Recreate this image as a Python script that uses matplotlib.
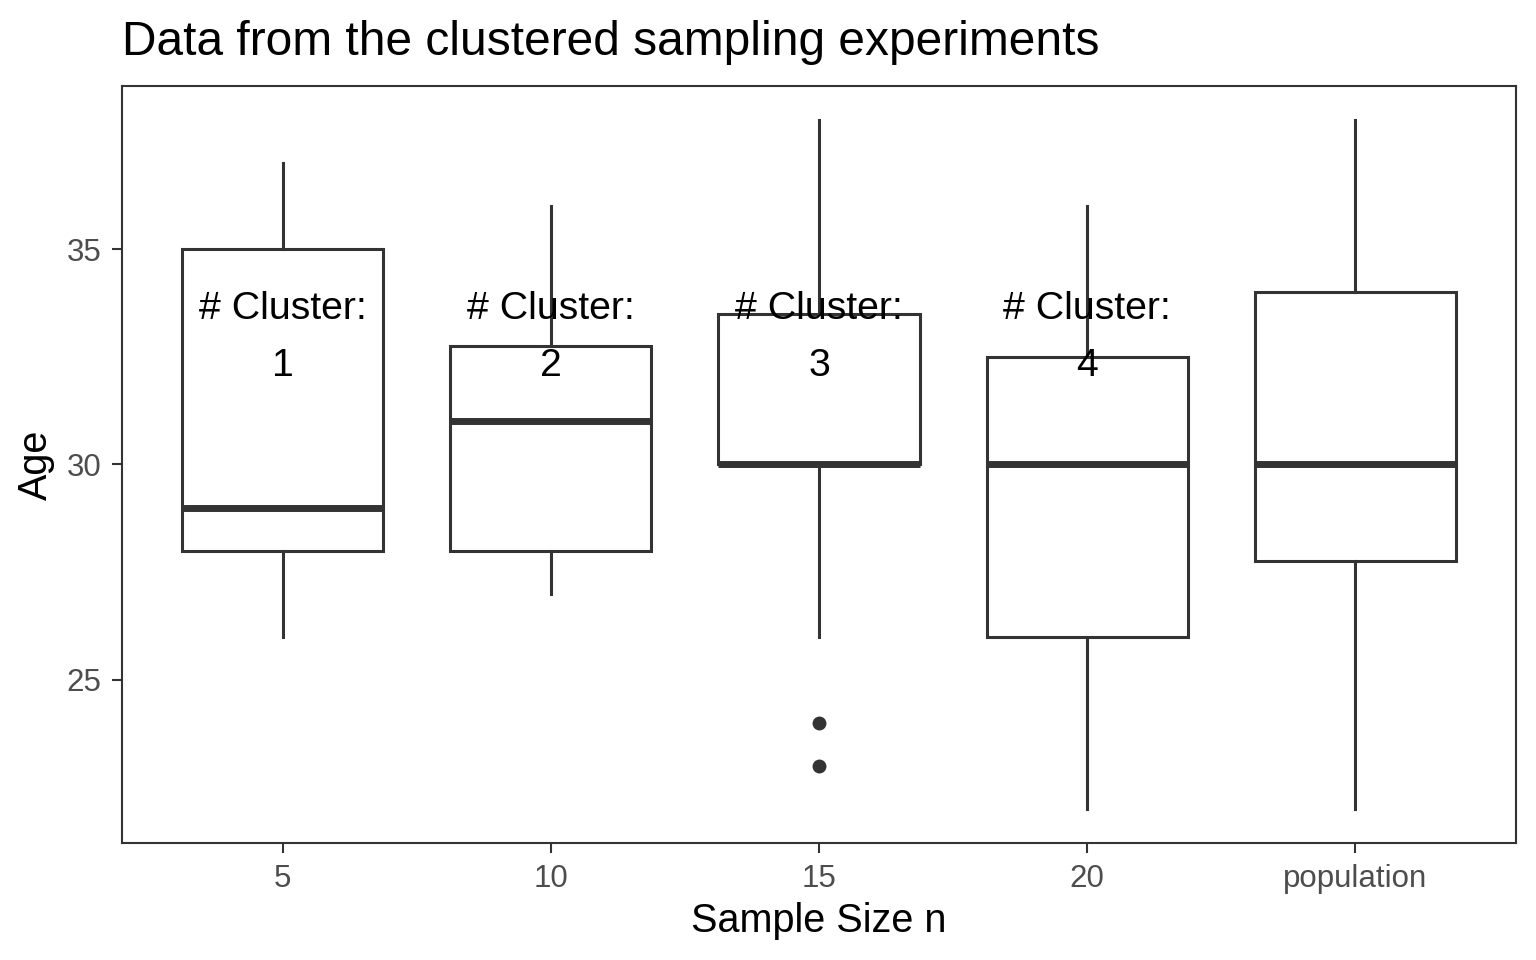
import matplotlib
matplotlib.use("Agg")
import matplotlib.pyplot as plt

plt.rcParams['font.family'] = ['Liberation Sans', 'DejaVu Sans']

# box statistics
groups = ['5', '10', '15', '20', 'population']
whislo = [26, 27, 26, 22, 22]
q1 = [28, 28, 30, 26, 27.75]
med = [29, 31, 30, 30, 30]
q3 = [35, 32.75, 33.5, 32.5, 34]
whishi = [37, 36, 38, 36, 38]
fliers = [[], [], [24, 23], [], []]

n_cluster = [1, 2, 3, 4]
label_y = 32.95

stats = []
for i in range(len(groups)):
    stats.append({'label': groups[i], 'whislo': whislo[i], 'q1': q1[i], 'med': med[i],
                  'q3': q3[i], 'whishi': whishi[i], 'fliers': fliers[i]})

fig = plt.figure(figsize=(15.36, 9.6), dpi=100)
ax = fig.add_axes([122/1536, 117/960, 1394/1536, 757/960])

dark = '#333333'
ax.bxp(stats, positions=range(1, len(groups)+1), widths=0.75, showcaps=False,
       patch_artist=True,
       boxprops=dict(facecolor='white', edgecolor=dark, linewidth=2.2),
       whiskerprops=dict(color=dark, linewidth=2.2),
       medianprops=dict(color=dark, linewidth=5, solid_capstyle='butt'),
       flierprops=dict(marker='o', markerfacecolor=dark, markeredgecolor=dark, markersize=9))

for i, n in enumerate(n_cluster):
    ax.text(i+1, label_y, '# Cluster:\n' + str(n), ha='center', va='center',
            fontsize=28.3, linespacing=1.75, color='black')

ax.set_xlim(0.4, len(groups)+0.6)
ax.set_ylim(21.2, 38.8)
ax.set_yticks([25, 30, 35])
ax.set_xticks(range(1, len(groups)+1))
ax.set_xticklabels(groups)

for s in ax.spines.values():
    s.set_color(dark)
    s.set_linewidth(1.5)
ax.tick_params(colors=dark, labelcolor='#4D4D4D', labelsize=22.5, width=1.5, length=7, pad=8)

ax.set_xlabel('Sample Size n', fontsize=28.5, labelpad=6)
ax.set_ylabel('Age', fontsize=28.5, labelpad=8)
ax.set_title('Data from the clustered sampling experiments', fontsize=34.5, loc='left', pad=22)

fig.savefig('out.png', dpi=100)
